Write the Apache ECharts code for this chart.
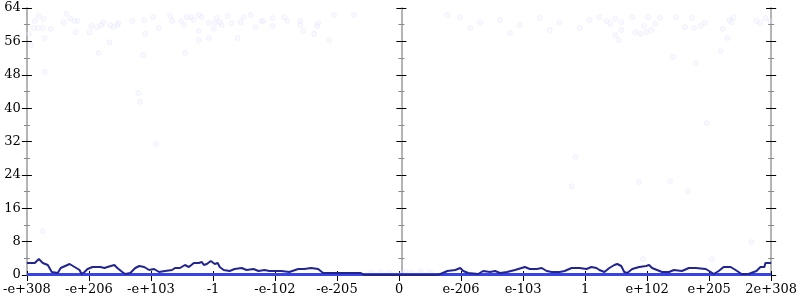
<!DOCTYPE html>
<html>
<head>
<meta charset="utf-8">
<script src="https://cdn.jsdelivr.net/npm/echarts@6/dist/echarts.min.js"></script>
<style>html,body{margin:0;padding:0;background:#fff}#c{width:800px;height:300px}</style>
</head>
<body>
<div id="c"></div>
<script>
const xTickLabels = ['-e+308','-e+206','-e+103','-1','-e-102','-e-205','0','e-206','e-103','1','e+102','e+205','2e+308'];
const yTicks = [0, 8, 16, 24, 32, 40, 48, 56, 64];

// rolling count line (x in tick-index units, y in counts)
const lineX = [0,0.128,0.192,0.256,0.337,0.401,0.497,0.545,0.689,0.769,0.849,0.881,0.929,0.978,1.058,1.186,1.250,1.298,1.330,1.410,1.458,1.538,1.587,1.667,1.747,1.811,1.891,1.971,2.051,2.131,2.228,2.340,2.388,2.468,2.548,2.612,2.692,2.772,2.821,2.853,2.901,2.965,3.029,3.077,3.109,3.173,3.269,3.349,3.462,3.542,3.654,3.734,3.830,3.910,3.990,4.103,4.231,4.375,4.471,4.583,4.696,4.776,4.952,5.096,5.224,5.385,5.433,6.619,6.667,6.779,6.907,6.987,7.035,7.115,7.276,7.356,7.468,7.548,7.628,7.740,7.869,8.029,8.109,8.221,8.301,8.381,8.462,8.590,8.670,8.782,8.910,8.942,9.022,9.103,9.183,9.231,9.311,9.391,9.471,9.519,9.583,9.631,9.679,9.760,9.872,9.984,10.032,10.080,10.160,10.240,10.353,10.433,10.561,10.673,10.785,10.946,11.026,11.074,11.154,11.234,11.346,11.426,11.522,11.635,11.763,11.827,11.891,11.907,12.0];
const lineY = [2.88,2.88,3.84,2.88,2.40,0.72,0.48,1.68,2.64,1.92,1.20,0.24,0.72,1.44,1.92,1.92,1.68,1.92,1.68,2.40,1.68,0.72,0.24,0.48,1.68,2.16,1.92,1.20,1.44,0.72,0.96,1.20,1.68,1.68,2.40,1.92,2.88,2.88,3.12,2.40,2.64,3.36,2.64,2.88,1.92,1.20,0.96,1.44,1.68,1.20,1.44,0.96,1.20,0.96,0.96,0.96,0.72,1.44,1.44,1.68,1.44,0.48,0.48,0.48,0.48,0.48,0,0,0.24,0.96,1.20,1.68,0.96,0.48,0.24,0.96,0.72,0.96,0.48,0.72,1.20,1.92,1.44,1.44,1.68,0.96,0.72,0.72,0.96,1.68,1.68,1.92,1.44,1.92,1.68,1.20,0.72,1.68,2.40,2.64,2.16,0.72,0.48,1.44,1.92,2.16,2.40,1.68,1.20,0.72,0.72,1.20,0.96,1.68,1.68,1.44,0.72,0.24,0.96,1.92,1.92,1.20,0.24,0.24,0.96,1.92,1.92,2.88,2.88];

// zero-count baseline
const baseX = [0, 12];
const baseY = [0.1, 0.1];

// faint individual samples
const dotX = [0.032,0.064,0.112,0.128,0.176,0.192,0.256,0.272,0.288,0.288,0.385,0.593,0.641,0.705,0.769,0.785,0.817,1.010,1.042,1.138,1.154,1.202,1.234,1.330,1.346,1.394,1.458,1.474,1.699,1.795,1.827,1.875,1.891,1.907,2.035,2.131,2.083,2.308,2.340,2.484,2.532,2.548,2.580,2.644,2.692,2.772,2.772,2.772,2.821,2.933,2.933,3.013,3.029,3.061,3.109,3.141,3.237,3.301,3.397,3.446,3.494,3.606,3.686,3.782,3.814,3.958,3.958,4.151,4.199,4.407,4.407,4.455,4.631,4.679,4.696,4.872,4.952,5.272,6.779,6.987,7.308,7.628,7.949,8.269,8.590,8.910,9.071,7.788,8.429,7.147,9.231,9.343,9.407,9.487,9.487,9.535,9.583,9.583,9.760,9.808,9.888,9.952,9.984,10.016,10.064,10.128,10.208,10.417,10.465,10.609,10.721,10.753,10.785,10.865,10.929,10.962,11.186,11.218,11.298,11.330,11.362,11.394,11.763,11.827,11.907,11.987,9.872,10.369,10.657,11.683,9.936,11.042,8.846,8.782,0.256,5.55,5.7,5.85,6.05,6.1,6.2,6.35,6.5];
const dotY = [57.8,55.1,59.2,60.9,59.2,62.1,59.2,61.4,56.8,48.7,59.0,60.6,62.6,61.4,60.9,58.2,60.9,58.2,59.7,59.4,53.2,59.9,60.6,55.8,59.9,59.4,59.9,60.4,60.9,43.6,41.5,52.7,61.1,57.8,61.8,59.2,31.4,62.1,60.9,60.9,59.9,53.2,61.8,61.8,61.1,62.3,58.5,56.3,61.8,60.4,56.8,59.0,60.4,61.6,60.6,59.9,62.1,60.4,56.8,60.6,61.8,62.3,59.4,60.9,60.9,61.6,59.7,61.8,60.9,60.9,59.9,58.5,57.8,59.7,60.4,56.3,62.3,62.3,62.3,61.8,60.6,61.1,59.9,61.6,60.6,59.2,61.1,58.0,58.7,59.2,61.8,60.9,60.2,61.4,57.5,56.3,60.6,58.7,61.8,58.2,57.8,59.7,58.2,61.8,58.7,60.2,61.6,52.3,61.8,59.4,61.6,59.2,50.8,59.7,60.4,36.4,53.7,59.0,56.8,61.1,60.6,61.8,60.9,60.4,61.6,60.9,22.3,22.5,20.1,7.9,3.8,3.8,28.3,21.3,10.5,0.6,0.7,0.5,0.5,0.8,0.6,0.9,0.7];

const zip = (a, b) => a.map((v, i) => [v, b[i]]);
const FONT = '"DejaVu Serif", serif';
const GRAY = '#b4b4b4';

function yAx(opts) {
  return Object.assign({
    type: 'value', min: yTicks[0], max: yTicks[yTicks.length - 1], interval: 8,
    splitLine: { show: false },
    axisLabel: { show: false },
    axisLine: { show: false },
    axisTick: { show: true, length: 5, lineStyle: { color: '#000', width: 1 } },
    minorTick: { show: true, splitNumber: 2, length: 3, lineStyle: { color: '#888', width: 1 } }
  }, opts);
}
const halfW = (773 - 24) / 2;

const chart = echarts.init(document.getElementById('c'), null, { renderer: 'canvas' });
chart.setOption({
  animation: false,
  grid: { left: 24, right: 27, top: 8, bottom: 25, containLabel: false },
  xAxis: [
    {
      type: 'value', min: 0, max: xTickLabels.length - 1, interval: 1, position: 'bottom',
      splitLine: { show: false },
      axisLine: { show: false },
      axisTick: { show: true, length: 6, lineStyle: { color: '#000' } },
      axisLabel: { show: true, margin: 8, color: '#000', fontFamily: FONT, fontSize: 13,
        formatter: v => xTickLabels[Math.round(v)] }
    },
    {
      type: 'value', min: 0, max: xTickLabels.length - 1, interval: 1, position: 'bottom',
      splitLine: { show: false }, axisLine: { show: false }, axisLabel: { show: false },
      axisTick: { show: true, inside: true, length: 4, lineStyle: { color: '#000' } }
    },
    {
      type: 'value', min: 0, max: xTickLabels.length - 1, position: 'top',
      splitLine: { show: false }, axisLabel: { show: false }, axisTick: { show: false },
      axisLine: { show: true, lineStyle: { color: GRAY, width: 2 } }
    }
  ],
  yAxis: [
    yAx({ position: 'left', axisLine: { show: true, lineStyle: { color: GRAY, width: 2 } },
      axisLabel: { show: true, margin: 6, color: '#000', fontFamily: FONT, fontSize: 13 } }),
    yAx({ position: 'left', axisTick: { show: true, inside: true, length: 5, lineStyle: { color: '#000' } },
      minorTick: { show: true, splitNumber: 2, length: 3, lineStyle: { color: '#888' } } }),
    yAx({ position: 'left', offset: -halfW, axisLine: { show: true, lineStyle: { color: GRAY, width: 2 } } }),
    yAx({ position: 'left', offset: -halfW, axisTick: { show: true, inside: true, length: 5, lineStyle: { color: '#000' } },
      minorTick: { show: true, splitNumber: 2, length: 3, lineStyle: { color: '#888' } } }),
    yAx({ position: 'right', axisLine: { show: true, lineStyle: { color: GRAY, width: 2 } } }),
    yAx({ position: 'right', axisTick: { show: true, inside: true, length: 5, lineStyle: { color: '#000' } },
      minorTick: { show: true, splitNumber: 2, length: 3, lineStyle: { color: '#888' } } })
  ],
  series: [
    {
      type: 'scatter', data: zip(dotX, dotY), symbol: 'circle', symbolSize: 5,
      itemStyle: { color: 'rgba(238,238,255,0.45)', borderColor: 'rgba(215,215,252,0.35)', borderWidth: 1 },
      z: 1
    },
    {
      type: 'line', data: zip(baseX, baseY), symbol: 'none',
      lineStyle: { color: '#3745e6', width: 3 }, z: 2
    },
    {
      type: 'line', data: zip(lineX, lineY), symbol: 'none',
      lineStyle: { color: '#24248f', width: 2 }, z: 3
    }
  ]
});
</script>
</body>
</html>
